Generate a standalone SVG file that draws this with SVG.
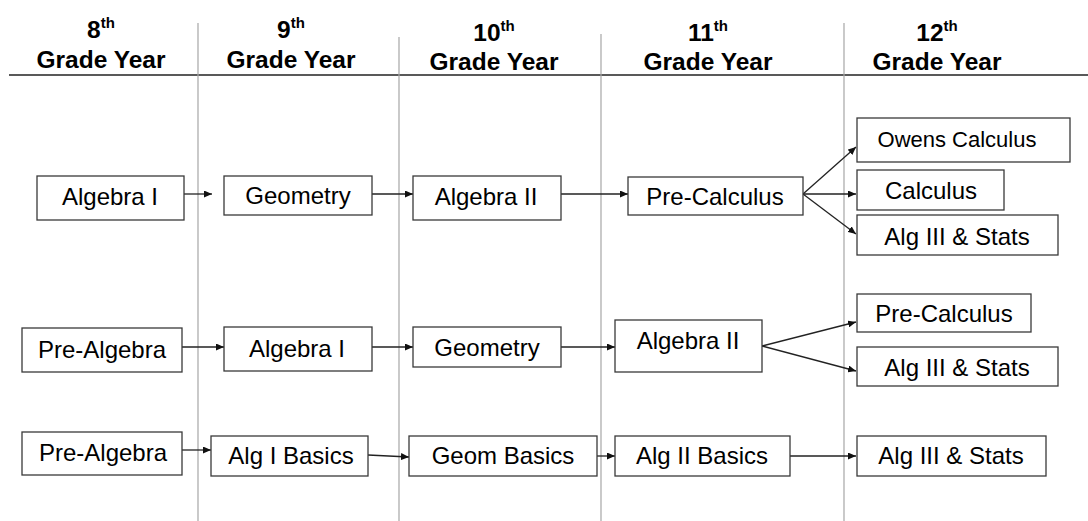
<svg xmlns="http://www.w3.org/2000/svg" width="1088" height="521" viewBox="0 0 1088 521">
<style>
.bg{fill:#fff}
.box{fill:#fff;stroke:#3a3a3a;stroke-width:1.3}
.lbl{font-family:"Liberation Sans",Arial,sans-serif;font-size:24px;fill:#000;text-anchor:middle}
.hdr{font-family:"Liberation Sans",Arial,sans-serif;font-size:24.5px;font-weight:bold;fill:#000;text-anchor:middle}
.sup{font-size:15px}
.vline{stroke:#a6a6a6;stroke-width:1.2}
.hline{stroke:#222;stroke-width:1.5}
.conn line{stroke:#222;stroke-width:1.3;marker-end:url(#ah)}
</style>
<defs>
<marker id="ah" markerUnits="userSpaceOnUse" markerWidth="8" markerHeight="7" refX="8" refY="3.5" orient="auto">
<path d="M0,0 L8,3.5 L0,7 Z" fill="#111"/>
</marker>
</defs>
<rect class="bg" width="1088" height="521"/>
<g id="grid">
<line class="hline" x1="9" y1="75" x2="1088" y2="75"/>
<line class="vline" x1="198" y1="23" x2="198" y2="521"/>
<line class="vline" x1="399" y1="37" x2="399" y2="521"/>
<line class="vline" x1="601" y1="34" x2="601" y2="521"/>
<line class="vline" x1="844" y1="23" x2="844" y2="521"/>
</g>
<g id="headers">
<text class="hdr" x="101" y="38">8<tspan class="sup" dy="-10">th</tspan></text>
<text class="hdr" x="101" y="68">Grade Year</text>
<text class="hdr" x="291" y="38">9<tspan class="sup" dy="-10">th</tspan></text>
<text class="hdr" x="291" y="68">Grade Year</text>
<text class="hdr" x="494" y="41">10<tspan class="sup" dy="-10">th</tspan></text>
<text class="hdr" x="494" y="70">Grade Year</text>
<text class="hdr" x="708" y="41">11<tspan class="sup" dy="-10">th</tspan></text>
<text class="hdr" x="708" y="70">Grade Year</text>
<text class="hdr" x="937" y="41">12<tspan class="sup" dy="-10">th</tspan></text>
<text class="hdr" x="937" y="70">Grade Year</text>
</g>
<g id="connectors" class="conn">
<line x1="184" y1="194" x2="212" y2="194"/>
<line x1="372" y1="194" x2="413" y2="194"/>
<line x1="561" y1="194" x2="628" y2="194"/>
<line x1="803" y1="194" x2="856" y2="147"/>
<line x1="803" y1="194" x2="856" y2="194"/>
<line x1="803" y1="194" x2="856" y2="234"/>
<line x1="182" y1="347" x2="224" y2="347"/>
<line x1="372" y1="347" x2="413" y2="347"/>
<line x1="561" y1="347" x2="615" y2="347"/>
<line x1="762" y1="346" x2="856" y2="322"/>
<line x1="762" y1="346" x2="856" y2="371"/>
<line x1="182" y1="450" x2="211" y2="450"/>
<line x1="368" y1="455" x2="409" y2="457"/>
<line x1="597" y1="456" x2="615" y2="456"/>
<line x1="790" y1="456" x2="856" y2="456"/>
</g>
<g id="n-alg1-r1"><rect class="box" x="37" y="176" width="147" height="44"/><text class="lbl" x="110" y="205">Algebra I</text></g>
<g id="n-geom-r1"><rect class="box" x="224" y="176" width="148" height="39"/><text class="lbl" x="298" y="204">Geometry</text></g>
<g id="n-alg2-r1"><rect class="box" x="413" y="176" width="148" height="44"/><text class="lbl" x="486" y="205">Algebra II</text></g>
<g id="n-precalc-r1"><rect class="box" x="628" y="177" width="175" height="38"/><text class="lbl" x="715" y="205">Pre-Calculus</text></g>
<g id="n-owens"><rect class="box" x="857" y="118" width="213" height="44"/><text class="lbl" x="957" y="147" style="font-size:22px">Owens Calculus</text></g>
<g id="n-calc"><rect class="box" x="857" y="170" width="147" height="40"/><text class="lbl" x="931" y="199">Calculus</text></g>
<g id="n-alg3-r1"><rect class="box" x="857" y="215" width="201" height="40"/><text class="lbl" x="957" y="245">Alg III &amp; Stats</text></g>
<g id="n-prealg-r2"><rect class="box" x="22" y="328" width="160" height="44"/><text class="lbl" x="102" y="358">Pre-Algebra</text></g>
<g id="n-alg1-r2"><rect class="box" x="224" y="327" width="148" height="44"/><text class="lbl" x="297" y="357">Algebra I</text></g>
<g id="n-geom-r2"><rect class="box" x="413" y="327" width="148" height="40"/><text class="lbl" x="487" y="356">Geometry</text></g>
<g id="n-alg2-r2"><rect class="box" x="615" y="320" width="147" height="52"/><text class="lbl" x="688" y="349">Algebra II</text></g>
<g id="n-precalc-r2"><rect class="box" x="857" y="294" width="174" height="38"/><text class="lbl" x="944" y="322">Pre-Calculus</text></g>
<g id="n-alg3-r2"><rect class="box" x="857" y="347" width="201" height="39"/><text class="lbl" x="957" y="376">Alg III &amp; Stats</text></g>
<g id="n-prealg-r3"><rect class="box" x="22" y="432" width="160" height="43"/><text class="lbl" x="103" y="461">Pre-Algebra</text></g>
<g id="n-alg1b"><rect class="box" x="211" y="436" width="157" height="40"/><text class="lbl" x="291" y="464">Alg I Basics</text></g>
<g id="n-geomb"><rect class="box" x="409" y="436" width="188" height="40"/><text class="lbl" x="503" y="464">Geom Basics</text></g>
<g id="n-alg2b"><rect class="box" x="615" y="436" width="175" height="40"/><text class="lbl" x="702" y="464">Alg II Basics</text></g>
<g id="n-alg3-r3"><rect class="box" x="857" y="436" width="189" height="40"/><text class="lbl" x="951" y="464">Alg III &amp; Stats</text></g>
</svg>
